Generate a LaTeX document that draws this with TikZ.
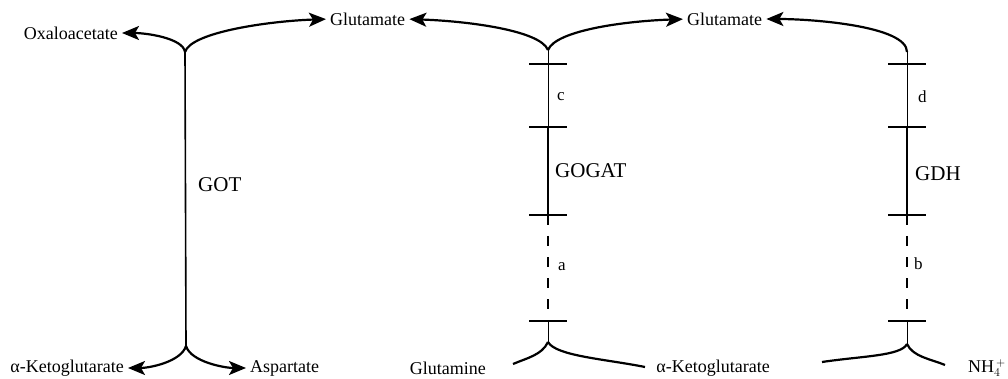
\documentclass[tikz,border=0pt]{standalone}
\usepackage{fontspec}
\setmainfont{Liberation Serif}
\usetikzlibrary{arrows.meta}
\begin{document}
\begin{tikzpicture}[x=1pt,y=-1pt,
  lbl/.style={inner sep=0pt, font=\fontsize{18}{20}\selectfont},
  enz/.style={inner sep=0pt, font=\fontsize{21}{24}\selectfont},
  sml/.style={inner sep=0pt, font=\fontsize{17}{19}\selectfont},
  arm/.style={line width=2.2pt},
  tipped/.style={-{Stealth[length=17pt,width=14pt,inset=4pt]}, shorten >=4pt},
  thinseg/.style={line width=1pt},
  thickseg/.style={line width=1.6pt},
  dashseg/.style={line width=1.5pt, dash pattern=on 10pt off 11pt},
  tick/.style={line width=1.4pt}]
\useasboundingbox (0,0) rectangle (1008,379);

% text nodes
\node[lbl, anchor=east] (oxa) at (118,33) {Oxaloacetate};
\node[lbl, anchor=west] (glu1) at (330,19) {Glutamate};
\node[lbl, anchor=west] (glu2) at (687,19) {Glutamate};
\node[lbl, anchor=east] (akg1) at (124,368) {α-Ketoglutarate};
\node[lbl, anchor=west] (asp) at (250,368) {Aspartate};
\node[lbl, anchor=east] (gln) at (486,368) {Glutamine};
\node[lbl, anchor=east] (akg2) at (770,368) {α-Ketoglutarate};
\node[lbl, anchor=west] (nh4) at (968,368) {NH$_4^{\,+}$};

\node[enz, anchor=west] (got) at (198,185) {GOT};
\node[enz, anchor=west] (gogat) at (555,171) {GOGAT};
\node[enz, anchor=west] (gdh) at (915,174) {GDH};

\node[sml, anchor=west] (c) at (557,97) {c};
\node[sml, anchor=west] (d) at (918,97) {d};
\node[sml, anchor=west] (a) at (558,267) {a};
\node[sml, anchor=west] (b) at (914,264) {b};

% junctions
\coordinate (gotT) at (185,52);
\coordinate (gotB) at (186,346);
\coordinate (ggT) at (548,50);
\coordinate (gg1) at (548,64);
\coordinate (gg2) at (548,127);
\coordinate (gg3) at (548,215);
\coordinate (gg4) at (548,321);
\coordinate (ggB) at (548,342);
\coordinate (ggL) at (513,364);
\coordinate (ggR) at (645,367);
\coordinate (ghT) at (907,52);
\coordinate (gh1) at (907,64);
\coordinate (gh2) at (907,127);
\coordinate (gh3) at (907,215);
\coordinate (gh4) at (907,321);
\coordinate (ghB) at (907,344);
\coordinate (ghL) at (822,362);
\coordinate (ghR) at (945,365);

% GOT
\draw[thickseg] (gotT) -- (gotB);
\draw[arm,tipped] (gotT) .. controls +(-2,-14) and +(28,0) .. (oxa.east);
\draw[arm,tipped] (gotT) .. controls +(6,-20) and +(-60,2) .. (glu1.west);
\draw[arm,tipped] (gotB) .. controls +(-5,16) and +(25,0) .. (akg1.east);
\draw[arm,tipped] (gotB) .. controls +(5,16) and +(-25,0) .. (asp.west);

% GOGAT
\draw[arm,tipped] (ggT) .. controls +(-8,-20) and +(60,2) .. (glu1.east);
\draw[arm,tipped] (ggT) .. controls +(8,-20) and +(-60,2) .. (glu2.west);
\draw[thinseg] (ggT) -- (gg2);
\draw[thickseg] (gg2) -- (gg3);
\draw[dashseg] (gg3) -- (gg4);
\draw[thinseg] (gg4) -- (ggB);
\foreach \p in {gg1,gg2,gg3,gg4}
  \draw[tick] ([xshift=-19pt]\p) -- ([xshift=19pt]\p);
\draw[arm] (ggB) .. controls +(-6,13) and +(14,-6) .. (ggL);
\draw[arm] (ggB) .. controls +(8,14) and +(-40,-8) .. (ggR);

% GDH
\draw[arm,tipped] (ghT) .. controls +(0,-26) and +(50,0) .. (glu2.east);
\draw[thinseg] (ghT) -- (gh2);
\draw[thickseg] (gh2) -- (gh3);
\draw[dashseg] (gh3) -- (gh4);
\draw[thinseg] (gh4) -- (ghB);
\foreach \p in {gh1,gh2,gh3,gh4}
  \draw[tick] ([xshift=-19pt]\p) -- ([xshift=19pt]\p);
\draw[arm] (ghB) .. controls +(-6,12) and +(40,-6) .. (ghL);
\draw[arm] (ghB) .. controls +(6,13) and +(-14,-6) .. (ghR);
\end{tikzpicture}
\end{document}
